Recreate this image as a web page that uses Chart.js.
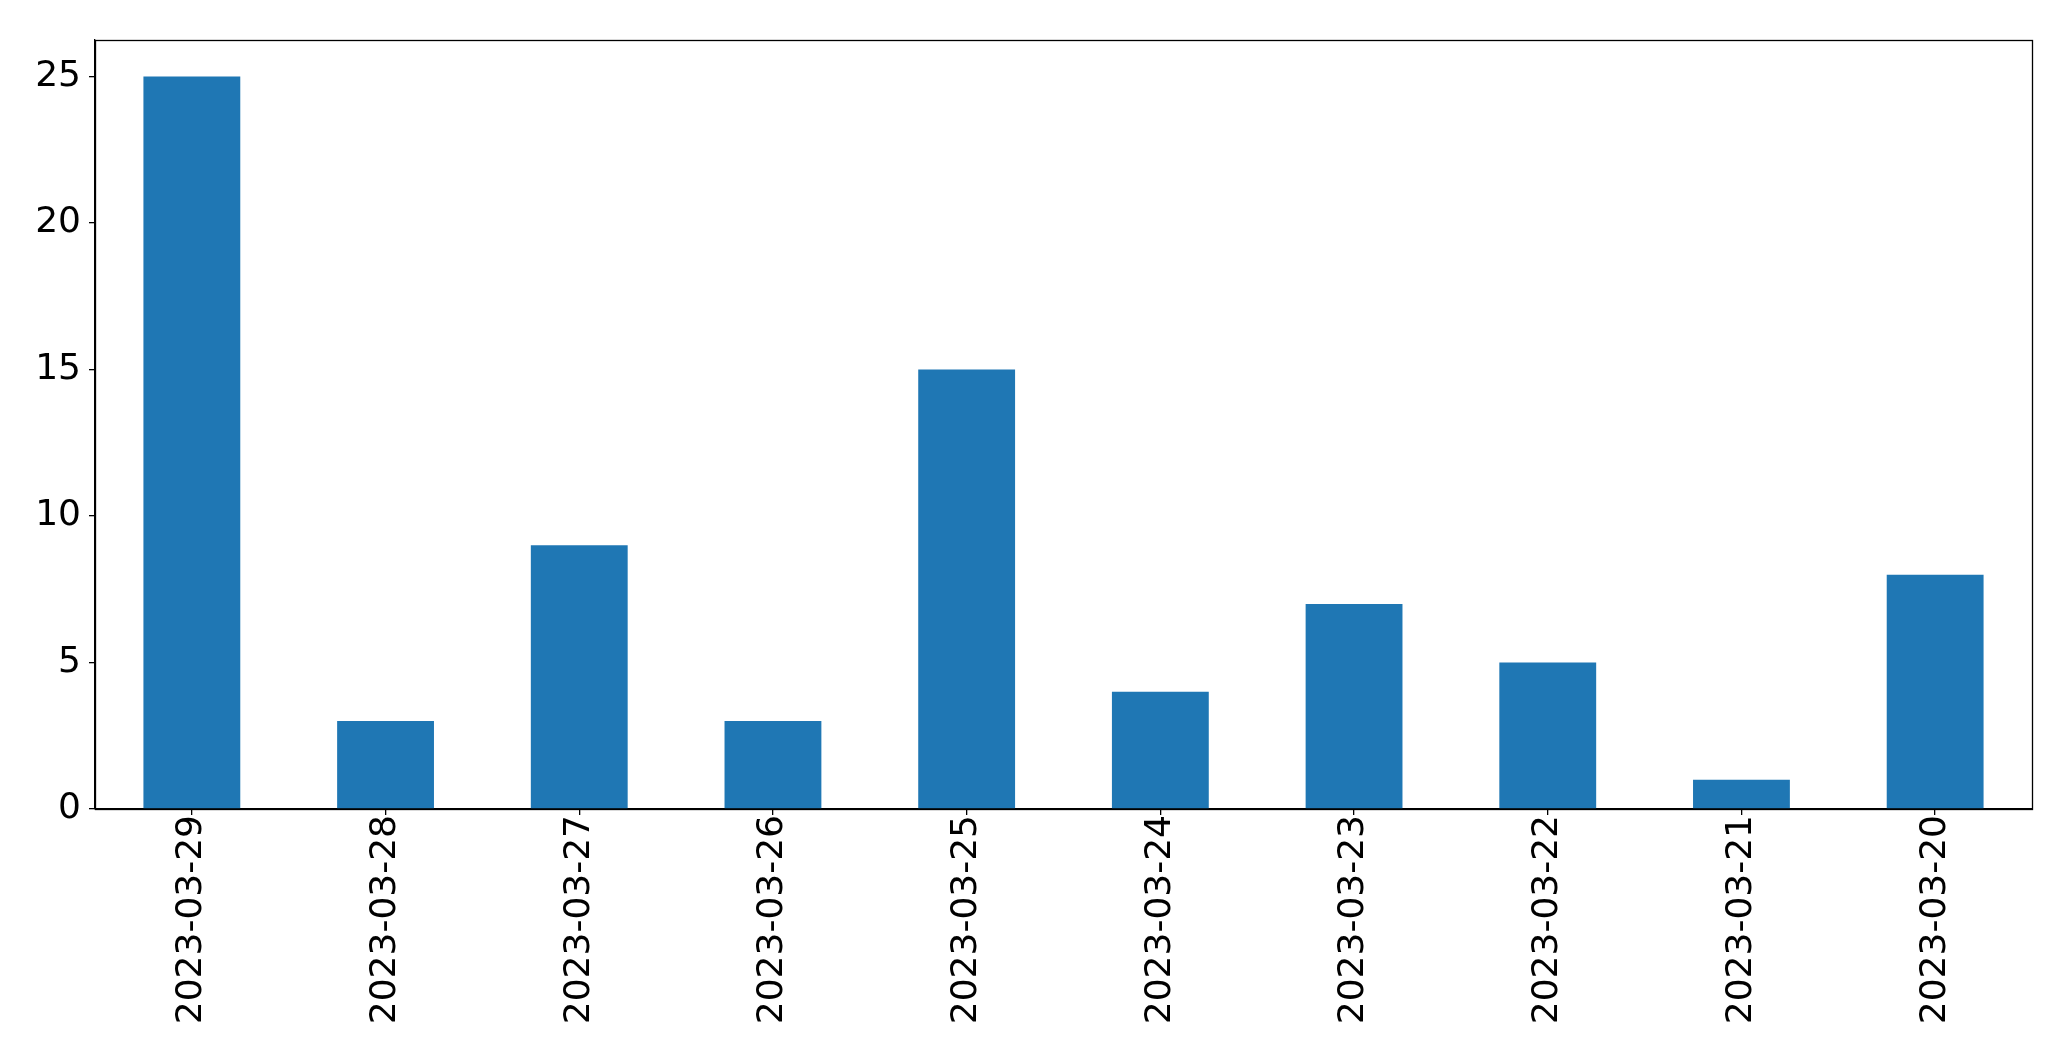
<!DOCTYPE html>
<html>
<head>
<meta charset="utf-8">
<script src="https://cdn.jsdelivr.net/npm/chart.js@4/dist/chart.umd.min.js"></script>
<style>
html,body{margin:0;padding:0;background:#fff;}
#wrap{width:2071px;height:1061px;position:relative;}
</style>
</head>
<body>
<div id="wrap"><canvas id="c" width="2071" height="1061"></canvas></div>
<script>
const categories = ["2023-03-29","2023-03-28","2023-03-27","2023-03-26","2023-03-25","2023-03-24","2023-03-23","2023-03-22","2023-03-21","2023-03-20"];
const counts = [25, 3, 9, 3, 15, 4, 7, 5, 1, 8];
const yTicks = [0, 5, 10, 15, 20, 25];

const frame = {
  id: 'frame',
  afterDraw(chart) {
    const a = chart.chartArea, ctx = chart.ctx;
    ctx.save();
    ctx.strokeStyle = '#000';
    ctx.lineWidth = 1.3;
    ctx.strokeRect(Math.round(a.left)+0.5, Math.round(a.top)+0.5, Math.round(a.right-a.left), Math.round(a.bottom-a.top));
    ctx.restore();
  }
};

new Chart(document.getElementById('c'), {
  type: 'bar',
  data: {
    labels: categories,
    datasets: [{
      data: counts,
      backgroundColor: '#1f77b4',
      borderWidth: 0,
      categoryPercentage: 1.0,
      barPercentage: 0.5
    }]
  },
  options: {
    responsive: false,
    animation: false,
    devicePixelRatio: 1,
    layout: { padding: { left: 0, top: 40, right: 39, bottom: 0 } },
    plugins: { legend: { display: false }, tooltip: { enabled: false } },
    scales: {
      x: {
        offset: true,
        grid: { display: true, drawOnChartArea: false, offset: false, color: '#000', tickLength: 6, lineWidth: 1.3 },
        border: { display: true, color: '#000', width: 1.3 },
        ticks: {
          color: '#000',
          font: { family: 'DejaVu Sans', size: 36 },
          minRotation: 90, maxRotation: 90,
          padding: 0,
          autoSkip: false
        },
        afterFit(scale) { scale.height = 252; }
      },
      y: {
        min: 0,
        max: 26.25,
        grid: { display: true, drawOnChartArea: false, color: '#000', tickLength: 6, lineWidth: 1.3 },
        border: { display: true, color: '#000', width: 1.3 },
        ticks: {
          color: '#000',
          font: { family: 'DejaVu Sans', size: 36 },
          padding: 8,
          stepSize: 5
        },
        afterBuildTicks(scale) { scale.ticks = yTicks.map(v => ({ value: v })); },
        afterFit(scale) { scale.width = 95; }
      }
    }
  },
  plugins: [frame]
});
</script>
</body>
</html>
